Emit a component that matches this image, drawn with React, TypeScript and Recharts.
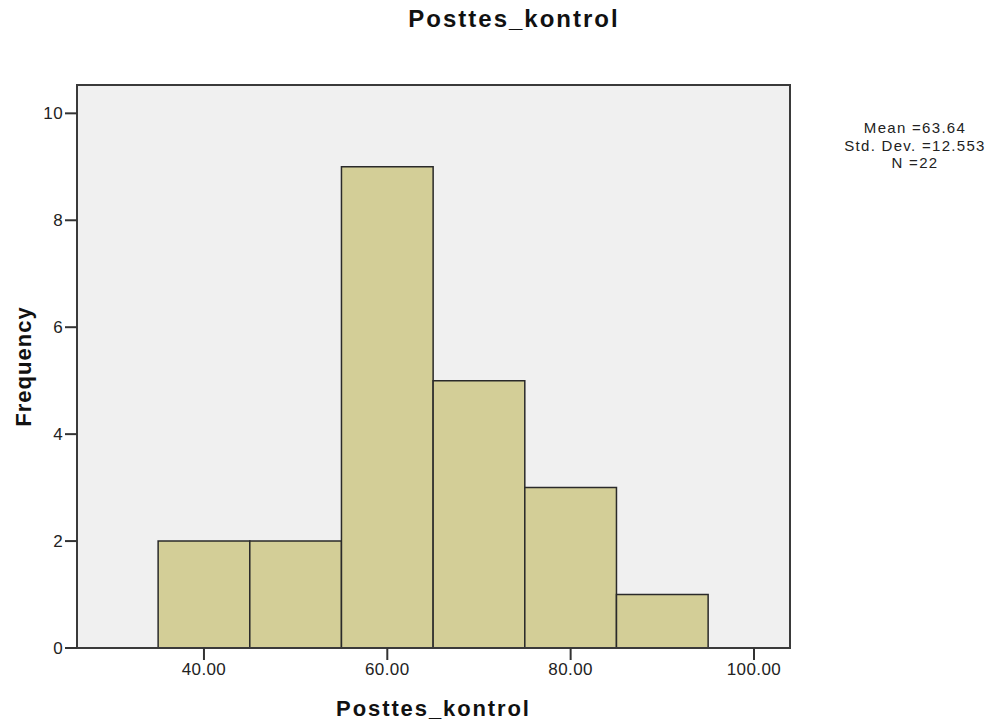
import { ComposedChart, XAxis, YAxis, ReferenceArea, Line } from "recharts";

// histogram bins (lower edge, upper edge) and counts
const binStarts = [35, 45, 55, 65, 75, 85];
const binEnds = [45, 55, 65, 75, 85, 95];
const counts = [2, 2, 9, 5, 3, 1];

const xTicks = [40, 60, 80, 100];
const yTicks = [0, 2, 4, 6, 8, 10];
const statLines = ["Mean =63.64", "Std. Dev. =12.553", "N =22"];

const X_MIN = 26.15;
const X_MAX = 103.93;
const Y_MAX = 10.53;

const font = "Arial, 'Liberation Sans', sans-serif";

export default function App() {
  // anchor points so the chart has something to scale against
  const data = [
    { x: X_MIN, y: 0 },
    { x: X_MAX, y: 0 },
  ];

  return (
    <div style={{ position: "absolute", left: 0, top: 0, width: 994, height: 724, background: "#fff", fontFamily: font }}>
      <div
        style={{
          position: "absolute",
          left: 0,
          width: 1028,
          top: 5,
          textAlign: "center",
          fontWeight: "bold",
          fontSize: 24,
          letterSpacing: 2,
          color: "#111",
        }}
      >
        Posttes_kontrol
      </div>
      <div
        style={{
          position: "absolute",
          left: 815,
          width: 200,
          top: 119,
          textAlign: "center",
          fontSize: 15,
          letterSpacing: 1.3,
          lineHeight: "17.5px",
          color: "#222",
        }}
      >
        {statLines.map((s) => (
          <div key={s}>{s}</div>
        ))}
      </div>
      <ComposedChart
        width={994}
        height={724}
        data={data}
        margin={{ top: 85, right: 204, bottom: 46, left: 37 }}
      >
        <XAxis
          dataKey="x"
          type="number"
          domain={[X_MIN, X_MAX]}
          ticks={xTicks}
          allowDataOverflow
          tickFormatter={(v: number) => v.toFixed(2)}
          tickSize={12}
          tickMargin={3}
          height={30}
          axisLine={false}
          tickLine={{ stroke: "#333", strokeWidth: 2 }}
          tick={{ fill: "#222", fontSize: 17, fontFamily: font, letterSpacing: 0.4 }}
          label={{
            value: "Posttes_kontrol",
            position: "bottom",
            offset: 22,
            style: { fontWeight: "bold", fontSize: 22, fill: "#111", fontFamily: font, letterSpacing: 1.9 },
          }}
        />
        <YAxis
          type="number"
          domain={[0, Y_MAX]}
          ticks={yTicks}
          allowDataOverflow
          width={40}
          tickSize={12}
          tickMargin={2}
          axisLine={false}
          tickLine={{ stroke: "#333", strokeWidth: 2 }}
          tick={{ fill: "#222", fontSize: 17, fontFamily: font, letterSpacing: 0.4 }}
          label={{
            value: "Frequency",
            angle: -90,
            position: "left",
            offset: 0,
            dx: -14,
            style: { fontWeight: "bold", fontSize: 22, fill: "#111", fontFamily: font, letterSpacing: 1, textAnchor: "middle" },
          }}
        />
        <ReferenceArea
          x1={X_MIN}
          x2={X_MAX}
          y1={0}
          y2={Y_MAX}
          fill="#f0f0f0"
          fillOpacity={1}
          stroke="none"
          ifOverflow="visible"
        />
        {counts.map((c, i) => (
          <ReferenceArea
            key={i}
            x1={binStarts[i]}
            x2={binEnds[i]}
            y1={0}
            y2={c}
            fill="#d3ce97"
            fillOpacity={1}
            stroke="#2a2a2a"
            strokeWidth={1.5}
            ifOverflow="visible"
          />
        ))}
        <ReferenceArea
          x1={X_MIN}
          x2={X_MAX}
          y1={0}
          y2={Y_MAX}
          fill="none"
          stroke="#3a3a3a"
          strokeWidth={2}
          ifOverflow="visible"
        />
        <Line dataKey="y" stroke="none" dot={false} isAnimationActive={false} />
      </ComposedChart>
    </div>
  );
}
